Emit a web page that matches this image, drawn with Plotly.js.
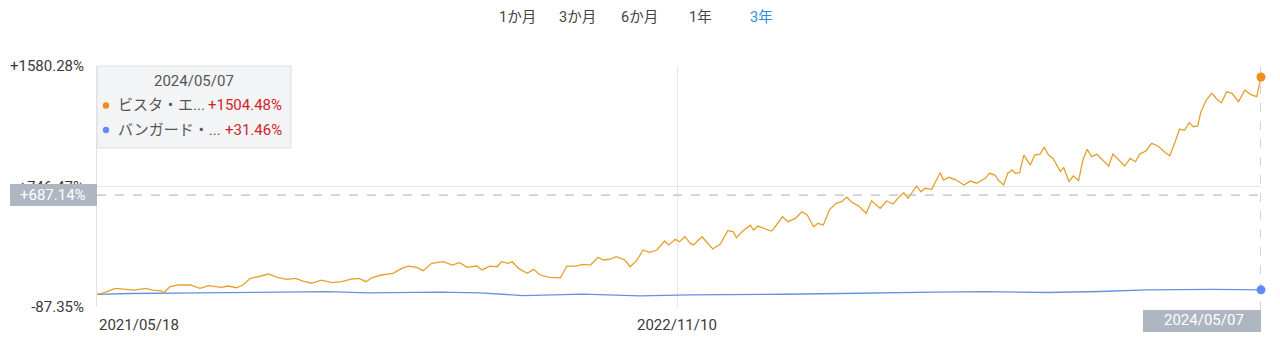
<!DOCTYPE html>
<html>
<head>
<meta charset="utf-8">
<script src="https://cdn.plot.ly/plotly-3.0.1.min.js"></script>
<style>
html,body{margin:0;padding:0;background:#fff;}
#chart{width:1280px;height:343px;}
</style>
</head>
<body>
<div id="chart"></div>
<script>
// ---- data ----
const seriesNames = ['ビスタ・エ...', 'バンガード・...'];
const menuLabels = ['1か月', '3か月', '6か月', '1年', '3年'];
const activeMenu = '3年';

const orangeDates = [
'2021-05-18','2021-05-25','2021-06-04','2021-06-13','2021-06-22','2021-07-02','2021-07-09','2021-07-17','2021-07-19','2021-07-25',
'2021-08-02','2021-08-13','2021-08-22','2021-08-30','2021-09-11','2021-09-17','2021-09-25','2021-10-01','2021-10-08','2021-10-15',
'2021-10-25','2021-11-02','2021-11-11','2021-11-19','2021-11-26','2021-12-04','2021-12-13','2021-12-23','2022-01-01','2022-01-10',
'2022-01-17','2022-01-24','2022-01-29','2022-02-07','2022-02-18','2022-02-26','2022-03-04','2022-03-12','2022-03-18','2022-03-26',
'2022-04-06','2022-04-14','2022-04-21','2022-04-28','2022-05-07','2022-05-12','2022-05-19','2022-05-26','2022-05-30','2022-06-05',
'2022-06-09','2022-06-15','2022-06-23','2022-06-29','2022-07-05','2022-07-14','2022-07-24','2022-07-30','2022-08-07','2022-08-14',
'2022-08-21','2022-08-28','2022-09-02','2022-09-08','2022-09-14','2022-09-22','2022-09-27','2022-10-03','2022-10-09','2022-10-15',
'2022-10-22','2022-10-29','2022-11-02','2022-11-08','2022-11-12','2022-11-17','2022-11-22','2022-11-25','2022-12-03','2022-12-07',
'2022-12-13','2022-12-20','2022-12-27','2023-01-01','2023-01-04','2023-01-10','2023-01-17','2023-01-20','2023-01-24','2023-02-01',
'2023-02-06','2023-02-11','2023-02-16','2023-02-21','2023-02-28','2023-03-06','2023-03-11','2023-03-17','2023-03-21','2023-03-26',
'2023-04-01','2023-04-07','2023-04-12','2023-04-17','2023-04-21','2023-04-28','2023-05-05','2023-05-10','2023-05-18','2023-05-24',
'2023-05-30','2023-06-05','2023-06-09','2023-06-13','2023-06-21','2023-06-25','2023-06-29','2023-07-05','2023-07-13','2023-07-16',
'2023-07-21','2023-07-28','2023-08-04','2023-08-10','2023-08-16','2023-08-24','2023-08-28','2023-09-02','2023-09-05','2023-09-10',
'2023-09-14','2023-09-18','2023-09-21','2023-09-25','2023-09-29','2023-10-05','2023-10-09','2023-10-14','2023-10-18','2023-10-22',
'2023-10-26','2023-11-02','2023-11-05','2023-11-10','2023-11-14','2023-11-19','2023-11-23','2023-11-27','2023-12-01','2023-12-06',
'2023-12-11','2023-12-17','2023-12-21','2023-12-26','2024-01-01','2024-01-06','2024-01-11','2024-01-15','2024-01-21','2024-01-26',
'2024-02-01','2024-02-08','2024-02-12','2024-02-17','2024-02-21','2024-02-26','2024-03-01','2024-03-05','2024-03-09','2024-03-12',
'2024-03-17','2024-03-22','2024-03-27','2024-03-31','2024-04-05','2024-04-10','2024-04-16','2024-04-22','2024-04-27','2024-05-03',
'2024-05-07'];
const orangeValues = [
0,12,42,35,30,42,30,25,11,53,
65,65,42,60,49,58,46,65,111,122,
141,118,104,111,92,77,99,81,88,106,
111,88,115,134,146,180,196,187,164,215,
226,203,219,187,196,169,196,191,226,215,
226,180,146,173,134,118,115,196,196,208,
203,256,238,243,261,238,191,233,307,291,
307,369,342,381,364,399,353,342,399,364,
314,348,441,434,392,438,478,445,473,450,
438,487,537,503,526,572,549,468,492,480,
589,630,641,672,641,611,561,648,596,646,
625,676,703,665,750,710,734,727,842,791,
810,791,757,784,769,803,838,826,791,757,
838,861,838,842,964,895,964,971,1018,964,
942,849,879,780,819,787,930,1004,953,969,
935,888,971,935,888,941,918,971,994,1045,
1027,980,960,1056,1142,1137,1188,1160,1165,1264,
1345,1391,1350,1326,1402,1391,1333,1414,1384,1368,
1504.48];

const blueDates = ['2021-05-18','2021-06-18','2021-08-22','2021-11-05','2021-12-19','2022-01-26','2022-04-03','2022-05-10','2022-06-19','2022-08-14',
'2022-10-06','2022-11-22','2023-01-07','2023-02-18','2023-04-11','2023-05-23','2023-07-08','2023-08-24','2023-10-21','2023-12-09',
'2024-01-22','2024-03-23','2024-05-07'];
const blueValues = [0,6,10,17,19,10,15,10,-8,2,
-10,-4,-3,1,6,12,15,19,13,20,
31,35,31.46];

const yTickVals = [-87.35, 746.47, 1580.28];
const yTickText = ['-87.35%', '+746.47%', '+1580.28%'];
const xTickVals = ['2021-05-18', '2022-11-10'];
const xTickText = ['2021/05/18', '2022/11/10'];
const crossValue = 687.14;
const crossValueText = '+687.14%';
const crossDateText = '2024/05/07';

// ---- styling ----
const FONT = 'Roboto, "Noto Sans CJK JP", "Noto Sans", sans-serif';
const ORANGE_LINE = '#e5a02c';
const ORANGE_DOT = '#f5891c';
const BLUE_LINE = '#6592dc';
const BLUE_DOT = '#5b8ef0';
const L = 97, R = 1261, T = 66, B = 307;
const px2x = p => (p - L) / (R - L);
const py2y = p => (B - p) / (B - T);
const fmt = v => (v >= 0 ? '+' : '') + v.toFixed(2) + '%';

const lastDate = orangeDates[orangeDates.length - 1];
const lastOrange = orangeValues[orangeValues.length - 1];
const lastBlue = blueValues[blueValues.length - 1];

const traces = [
  {x: blueDates, y: blueValues, type: 'scatter', mode: 'lines', line: {color: BLUE_LINE, width: 1.3}, name: seriesNames[1]},
  {x: orangeDates, y: orangeValues, type: 'scatter', mode: 'lines', line: {color: ORANGE_LINE, width: 1.3}, name: seriesNames[0]},
  {x: [lastDate], y: [lastOrange], type: 'scatter', mode: 'markers', cliponaxis: false, marker: {color: ORANGE_DOT, size: 9}},
  {x: [blueDates[blueDates.length - 1]], y: [lastBlue], type: 'scatter', mode: 'markers', cliponaxis: false, marker: {color: BLUE_DOT, size: 9}}
];

const annotations = [];
// top period menu
const menuCenters = [517.5, 577.5, 639.5, 700, 761.5];
menuLabels.forEach((m, i) => {
  annotations.push({xref: 'paper', yref: 'paper', x: px2x(menuCenters[i]), y: py2y(17), text: m, showarrow: false,
    font: {family: FONT, size: 14.5, color: m === activeMenu ? '#2a8ee0' : '#444'}, xanchor: 'center', yanchor: 'middle'});
});
// x labels
annotations.push({xref: 'x', yref: 'paper', x: xTickVals[0], y: py2y(325), text: xTickText[0], showarrow: false,
  font: {family: FONT, size: 15, color: '#3a3a3a'}, xanchor: 'left', yanchor: 'middle'});
annotations.push({xref: 'x', yref: 'paper', x: xTickVals[1], y: py2y(325), text: xTickText[1], showarrow: false,
  font: {family: FONT, size: 15, color: '#3a3a3a'}, xanchor: 'center', yanchor: 'middle'});
// crosshair labels
annotations.push({xref: 'paper', yref: 'y', x: px2x(88), y: crossValue, text: crossValueText, showarrow: false,
  font: {family: FONT, size: 15, color: '#ffffff'}, xanchor: 'right', yanchor: 'middle'});
annotations.push({xref: 'x', yref: 'paper', x: lastDate, xshift: -57, y: py2y(320), text: crossDateText, showarrow: false,
  font: {family: FONT, size: 15, color: '#ffffff'}, xanchor: 'center', yanchor: 'middle'});
// tooltip
annotations.push({xref: 'paper', yref: 'paper', x: px2x(193.5), y: py2y(81), text: crossDateText, showarrow: false,
  font: {family: FONT, size: 15, color: '#555'}, xanchor: 'center', yanchor: 'middle'});
[[seriesNames[0], lastOrange, 105], [seriesNames[1], lastBlue, 129.5]].forEach(([n, v, py]) => {
  annotations.push({xref: 'paper', yref: 'paper', x: px2x(116), y: py2y(py), text: n, showarrow: false,
    font: {family: FONT, size: 15, color: '#555'}, xanchor: 'left', yanchor: 'middle'});
  annotations.push({xref: 'paper', yref: 'paper', x: px2x(284), y: py2y(py), text: fmt(v), showarrow: false,
    font: {family: FONT, size: 15, color: '#d2232a'}, xanchor: 'right', yanchor: 'middle'});
});

const shapes = [
  // crosshair lines
  {type: 'line', xref: 'paper', yref: 'y', x0: 0, x1: 1, y0: crossValue, y1: crossValue,
    line: {color: '#a8adb5', width: 1, dash: 'dash'}, layer: 'above'},
  {type: 'line', xref: 'x', yref: 'paper', x0: lastDate, x1: lastDate, y0: py2y(310), y1: 1,
    line: {color: '#a0a8b8', width: 1, dash: 'dash'}, layer: 'below'},
  // y crosshair box
  {type: 'rect', xref: 'paper', yref: 'y', ysizemode: 'pixel', yanchor: crossValue, y0: -11, y1: 11,
    x0: px2x(10), x1: 0, fillcolor: '#aeb6c1', line: {width: 0}, layer: 'above'},
  // x crosshair box
  {type: 'rect', xref: 'x', xsizemode: 'pixel', xanchor: lastDate, x0: -118, x1: 3,
    yref: 'paper', y0: py2y(332), y1: py2y(310), fillcolor: '#aeb6c1', line: {width: 0}, layer: 'above'},
  // tooltip box
  {type: 'rect', xref: 'paper', yref: 'paper', x0: 0, x1: px2x(291), y0: py2y(148), y1: 1,
    fillcolor: '#f3f4f5', line: {color: '#dedfe1', width: 1}, layer: 'above'},
  // tooltip dots
  {type: 'circle', xref: 'paper', yref: 'paper', xsizemode: 'pixel', ysizemode: 'pixel',
    xanchor: px2x(106), yanchor: py2y(105.5), x0: -3.2, x1: 3.2, y0: -3.2, y1: 3.2,
    fillcolor: ORANGE_DOT, line: {width: 0}, layer: 'above'},
  {type: 'circle', xref: 'paper', yref: 'paper', xsizemode: 'pixel', ysizemode: 'pixel',
    xanchor: px2x(106), yanchor: py2y(130), x0: -3.2, x1: 3.2, y0: -3.2, y1: 3.2,
    fillcolor: BLUE_DOT, line: {width: 0}, layer: 'above'}
];

const layout = {
  width: 1280, height: 343,
  margin: {l: L, r: 1280 - R, t: T, b: 343 - B, pad: 0},
  paper_bgcolor: '#ffffff', plot_bgcolor: '#ffffff',
  showlegend: false, hovermode: false,
  font: {family: FONT, size: 15, color: '#444'},
  xaxis: {type: 'date', range: [orangeDates[0], lastDate], tickvals: xTickVals, showticklabels: false,
    showgrid: true, gridcolor: '#e6e6e6', gridwidth: 1, zeroline: false, showline: false, ticks: ''},
  yaxis: {range: [yTickVals[0], yTickVals[2]], tickvals: yTickVals, ticktext: yTickText,
    showgrid: true, gridcolor: '#e6e6e6', gridwidth: 1, zeroline: false,
    showline: true, linecolor: '#e3e3e3', linewidth: 1, ticks: '', ticklabelstandoff: 9,
    tickfont: {family: FONT, size: 15, color: '#3a3a3a'}},
  annotations: annotations,
  shapes: shapes
};

Plotly.newPlot('chart', traces, layout, {displayModeBar: false, staticPlot: true});
</script>
</body>
</html>
